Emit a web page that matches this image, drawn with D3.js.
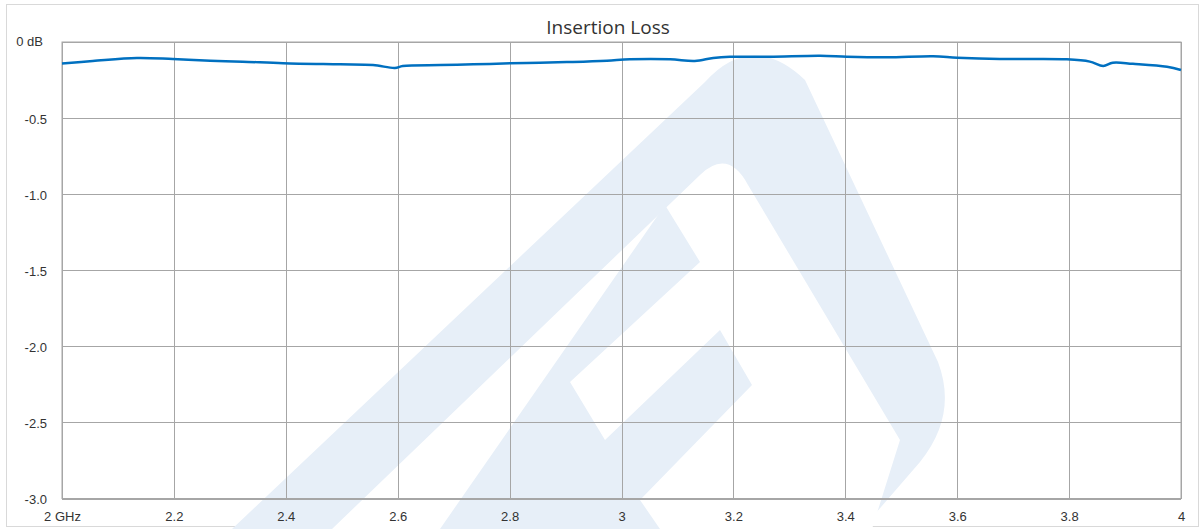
<!DOCTYPE html>
<meta charset="utf-8">
<style>
body { margin: 0; background: #fff; }
svg { font-family: "Open Sans", sans-serif; }
.frame { fill: #fff; stroke: #d9d9d9; stroke-width: 1; }
.grid line, .grid path { stroke: #a6a6a6; stroke-width: 1; shape-rendering: crispEdges; }
.axis text { fill: #333; font-size: 13px; }
.title { fill: #333; font-size: 19px; }
.logo { fill: #e7eff8; }
.logo-cut { fill: #fff; }
</style>
<svg width="1202" height="529"></svg>
<script src="https://d3js.org/d3.v7.min.js"></script>
<script>
// insertion loss curve
var freqGHz = [2.000, 2.055, 2.134, 2.198, 2.265, 2.323, 2.395, 2.497, 2.556, 2.595, 2.609,
               2.676, 2.735, 2.801, 2.854, 2.913, 2.974, 3.015, 3.087, 3.131, 3.164, 3.194,
               3.265, 3.355, 3.403, 3.475, 3.557, 3.600, 3.676, 3.796, 3.837, 3.861, 3.878,
               3.914, 3.975, 4.000];
var lossDb  = [-0.141, -0.125, -0.105, -0.112, -0.123, -0.129, -0.140, -0.147, -0.151, -0.171, -0.158,
               -0.151, -0.147, -0.140, -0.136, -0.131, -0.123, -0.114, -0.114, -0.125, -0.105, -0.097,
               -0.097, -0.090, -0.097, -0.101, -0.094, -0.103, -0.112, -0.114, -0.129, -0.158, -0.136,
               -0.143, -0.162, -0.184];

var xTicks = [2, 2.2, 2.4, 2.6, 2.8, 3, 3.2, 3.4, 3.6, 3.8, 4];
var xLabels = ["2 GHz", "2.2", "2.4", "2.6", "2.8", "3", "3.2", "3.4", "3.6", "3.8", "4"];
var yTicks = [0, -0.5, -1, -1.5, -2, -2.5, -3];
var yLabels = ["0 dB", "-0.5", "-1.0", "-1.5", "-2.0", "-2.5", "-3.0"];

var svg = d3.select("svg"),
    width = +svg.attr("width"),
    height = +svg.attr("height");

var margin = {left: 62, right: 1181, top: 42, bottom: 498.5};

var x = d3.scaleLinear().domain([2, 4]).range([margin.left, margin.right]);
var y = d3.scaleLinear().domain([-3, 0]).range([margin.bottom, margin.top]);

// outer chart frame
svg.append("rect").attr("class", "frame")
    .attr("x", 6.5).attr("y", 4.5).attr("width", 1192).attr("height", 522);

// faint logo in the background
var logo = svg.append("g");
logo.append("path").attr("class", "logo")
    .attr("d", "M232,529 L705,82 Q752,30 805,80 L938,362 Q958,415 920,462 L862,529 Z");
logo.append("path").attr("class", "logo-cut")
    .attr("d", "M332,529 L700,175 Q728,148 748,185 L900,440 L872,529 Z");
logo.append("path").attr("class", "logo")
    .attr("d", "M440,529 L665,205 L700,262 L570,382 L605,440 L720,330 L752,385 L640,500 L660,529 Z");

// gridlines
svg.append("g").attr("class", "grid")
    .attr("transform", "translate(0," + margin.bottom + ")")
    .call(d3.axisBottom(x).tickValues(xTicks).tickSize(-(margin.bottom - margin.top)).tickFormat(""))
    .call(function(g) { g.select(".domain").remove(); });

svg.append("g").attr("class", "grid")
    .attr("transform", "translate(" + margin.left + ",0)")
    .call(d3.axisLeft(y).tickValues(yTicks).tickSize(-(margin.right - margin.left)).tickFormat(""))
    .call(function(g) { g.select(".domain").remove(); });

// plot border
svg.append("rect")
    .attr("x", margin.left).attr("y", margin.top)
    .attr("width", margin.right - margin.left).attr("height", margin.bottom - margin.top)
    .attr("fill", "none").attr("stroke", "#a6a6a6");

// tick labels
var yAxis = svg.append("g").attr("class", "axis")
    .attr("transform", "translate(" + margin.left + ",0)")
    .call(d3.axisLeft(y).tickValues(yTicks).tickSize(0).tickPadding(15)
        .tickFormat(function(d, i) { return yLabels[i]; }));
yAxis.select(".domain").remove();
yAxis.selectAll("text").attr("dy", "0.42em").attr("font-family", null).attr("font-size", null);
yAxis.selectAll("text").filter(function(d) { return d === 0; }).attr("dx", -4).attr("dy", "0.3em");

var xAxis = svg.append("g").attr("class", "axis")
    .attr("transform", "translate(0," + margin.bottom + ")")
    .call(d3.axisBottom(x).tickValues(xTicks).tickSize(0).tickPadding(13)
        .tickFormat(function(d, i) { return xLabels[i]; }));
xAxis.select(".domain").remove();
xAxis.selectAll("text").attr("font-family", null).attr("font-size", null);

// data line
var pts = freqGHz.map(function(f, i) { return [f, lossDb[i]]; });
var line = d3.line()
    .x(function(d) { return x(d[0]); })
    .y(function(d) { return y(d[1]); })
    .curve(d3.curveCatmullRom.alpha(0.5));

svg.append("path")
    .datum(pts)
    .attr("fill", "none")
    .attr("stroke", "#0070c0")
    .attr("stroke-width", 2.5)
    .attr("stroke-linejoin", "round")
    .attr("d", line);

// title
svg.append("text").attr("class", "title")
    .attr("x", 608).attr("y", 34)
    .attr("text-anchor", "middle")
    .text("Insertion Loss");
</script>
